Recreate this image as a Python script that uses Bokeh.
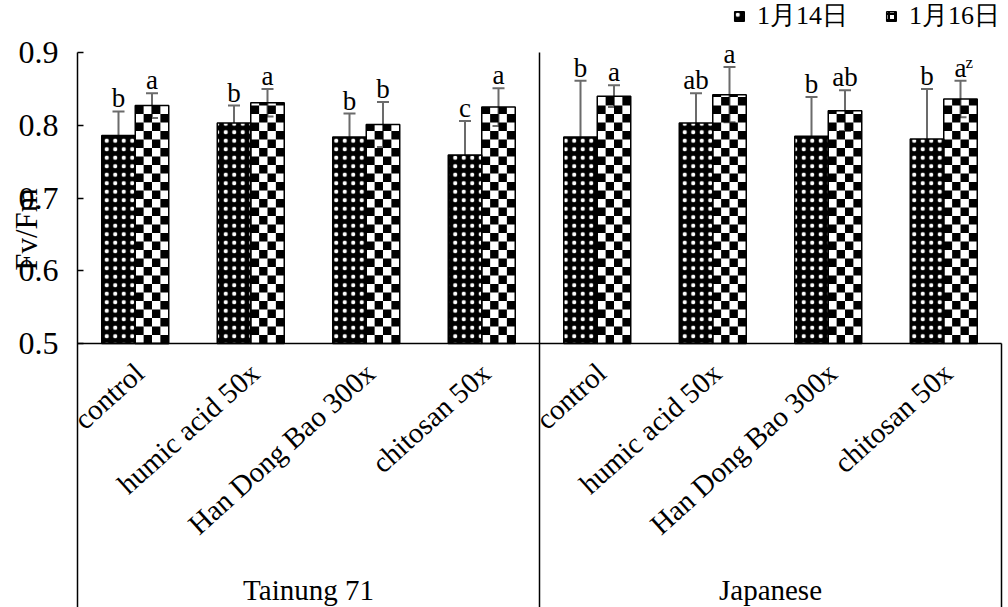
import math
from bokeh.plotting import figure
from bokeh.models import (FixedTicker, Legend, LegendItem, Label, Whisker, TeeHead,
                          ColumnDataSource, Range1d, LinearAxis)
from bokeh.core.properties import value
from bokeh.embed import file_html
from bokeh.resources import INLINE

# ---------------- data ----------------
groups = ["Tainung 71", "Japanese"]
treatments = ["control", "humic acid 50x", "Han Dong Bao 300x", "chitosan 50x"]
series_names = ["1月14日", "1月16日"]
jan14 = [0.786, 0.803, 0.784, 0.759, 0.784, 0.803, 0.785, 0.781]
jan14_err = [0.033, 0.024, 0.032, 0.047, 0.077, 0.041, 0.054, 0.069]
jan16 = [0.827, 0.831, 0.801, 0.825, 0.840, 0.842, 0.820, 0.836]
jan16_err = [0.017, 0.019, 0.031, 0.026, 0.015, 0.038, 0.028, 0.025]
jan14_letters = ["b", "b", "b", "c", "b", "ab", "b", "b"]
jan16_letters = ["a", "a", "b", "a", "a", "a", "ab", "a"]
jan16_sup = ["", "", "", "", "", "", "", "z"]
y_ticks = [0.5, 0.6, 0.7, 0.8, 0.9]
y_title = "Fv/Fm"

# ---------------- layout / style ----------------
W, H = 1008, 607
AX_X, TOP_Y, BASE_Y, RIGHT_X = 77, 52, 343, 1001
y_top = y_ticks[-1]
y_base = y_ticks[0]
px_per_unit = (BASE_Y - TOP_Y) / (y_top - y_base)
n_cat = len(groups) * len(treatments)
cat_px = (RIGHT_X - AX_X) / n_cat
x_start = -AX_X / cat_px
x_end = n_cat + (W - RIGHT_X) / cat_px
y_end = y_top + TOP_Y / px_per_unit
y_start = y_base - (H - BASE_Y) / px_per_unit
bar_w = 0.29
SERIF = "Liberation Serif"
ERR = "#6b6b6b"

p = figure(width=W, height=H, output_backend="svg", toolbar_location=None,
           x_range=Range1d(x_start, x_end), y_range=Range1d(y_start, y_end),
           x_axis_location=None, y_axis_location=None, title=None,
           min_border=0)
p.outline_line_color = None
p.background_fill_color = "white"
p.border_fill_color = "white"
p.xgrid.visible = False
p.ygrid.visible = False

ax = LinearAxis(fixed_location=0, bounds=(y_start, y_top))
ax.ticker = FixedTicker(ticks=y_ticks)
ax.major_tick_in = 6
ax.major_tick_out = 0
ax.minor_tick_line_color = None
ax.axis_line_width = 1.5
ax.axis_line_color = "black"
ax.major_tick_line_width = 1.5
ax.major_tick_line_color = "black"
ax.major_label_text_font = SERIF
ax.major_label_text_font_size = "32px"
ax.major_label_text_color = "black"
ax.major_label_standoff = 19
p.add_layout(ax, "left")

cats = [(g, t) for g in groups for t in treatments]
centers = [i + 0.5 for i in range(n_cat)]
x14 = [c - bar_w / 2 for c in centers]
x16 = [c + bar_w / 2 for c in centers]

# structural lines (group divider, baseline, right border)
p.segment(x0=[0, len(treatments), n_cat], y0=[y_base, y_start, y_start],
          x1=[n_cat, len(treatments), n_cat], y1=[y_base, y_top, y_base],
          line_color="black", line_width=1.5)

# 1月14日 bars: black with white dots
src14 = ColumnDataSource(dict(x=x14, top=jan14,
                              lower=[v - e for v, e in zip(jan14, jan14_err)],
                              upper=[v + e for v, e in zip(jan14, jan14_err)],
                              lab=jan14_letters))
r14 = p.vbar(x="x", top="top", bottom=y_base, width=bar_w, source=src14,
             fill_color="black", line_color="black", line_width=1.5,
             hatch_pattern="dot", hatch_color="white", hatch_scale=8.5, hatch_weight=1.0)

# 1月16日 bars: checkerboard
cell_h = 8.5 / px_per_unit
ncol = 4
L, R, B, T = [], [], [], []
for xc, v in zip(x16, jan16):
    x0 = xc - bar_w / 2
    cw = bar_w / ncol
    r = 0
    while y_base + r * cell_h < v:
        b = y_base + r * cell_h
        t = min(b + cell_h, v)
        for c in range(ncol):
            if (r + c) % 2 == 1:
                L.append(x0 + c * cw); R.append(x0 + (c + 1) * cw)
                B.append(b); T.append(t)
        r += 1
p.quad(left=L, right=R, bottom=B, top=T, fill_color="black", line_color=None)

src16 = ColumnDataSource(dict(x=x16, top=jan16,
                              lower=[v - e for v, e in zip(jan16, jan16_err)],
                              upper=[v + e for v, e in zip(jan16, jan16_err)],
                              lab=jan16_letters, sup=jan16_sup))
r16 = p.vbar(x="x", top="top", bottom=y_base, width=bar_w, source=src16,
             fill_color=None, line_color="black", line_width=1.5)

# legend proxy for the checker icon (zero-height bar lying on the baseline)
r16_leg = p.vbar(x=[x16[0]], top=[y_base], bottom=[y_base], width=bar_w, fill_color="white",
                 line_color="black", line_width=1.5, hatch_pattern="+",
                 hatch_color="black", hatch_scale=6, hatch_weight=2)

# error bars
for src in (src14, src16):
    p.add_layout(Whisker(source=src, base="x", lower="lower", upper="upper",
                         line_color=ERR, line_width=2,
                         upper_head=TeeHead(size=12, line_color=ERR, line_width=2),
                         lower_head=TeeHead(size=12, line_color=ERR, line_width=2)))

# significance letters
for src in (src14, src16):
    p.text(x="x", y="upper", text="lab", source=src, text_align="center",
           text_baseline="bottom", y_offset=2, text_font=value(SERIF),
           text_font_size="27px", text_color="black")
p.text(x="x", y="upper", text="sup", source=src16, text_align="left",
       text_baseline="bottom", x_offset=5, y_offset=-9, text_font=value(SERIF),
       text_font_size="17px", text_color="black")

# category labels
cat_y = y_base - 25 / px_per_unit
p.text(x=centers, y=[cat_y] * n_cat, text=[t for g, t in cats], angle=math.radians(42),
       text_align="right", text_baseline="middle", x_offset=4,
       text_font=value(SERIF), text_font_size="29px", text_color="black")

# group labels
grp_y = y_base - 246 / px_per_unit
grp_x = [len(treatments) * (k + 0.5) for k in range(len(groups))]
p.text(x=grp_x, y=[grp_y] * len(groups), text=groups, text_align="center",
       text_baseline="middle", text_font=value(SERIF), text_font_size="29px",
       text_color="black")

# y title (overlapping the tick labels as in the original)
p.add_layout(Label(x=(26 - AX_X) / cat_px, y=y_top - 177 / px_per_unit,
                   text=y_title, angle=math.pi / 2, text_align="center",
                   text_baseline="middle", text_font=SERIF, text_font_size="31px",
                   text_color="black"))

# legend
legend = Legend(items=[LegendItem(label=series_names[0], renderers=[r14]),
                       LegendItem(label=series_names[1], renderers=[r16_leg])],
                orientation="horizontal", location=(733, H - 33),
                glyph_width=12, glyph_height=12, label_standoff=12, spacing=37,
                padding=0, margin=0, border_line_color=None, background_fill_alpha=0,
                label_text_font=SERIF, label_text_font_size="26px", label_text_color="black")
p.add_layout(legend, "center")

open("out.html", "w").write(file_html(p, INLINE))
